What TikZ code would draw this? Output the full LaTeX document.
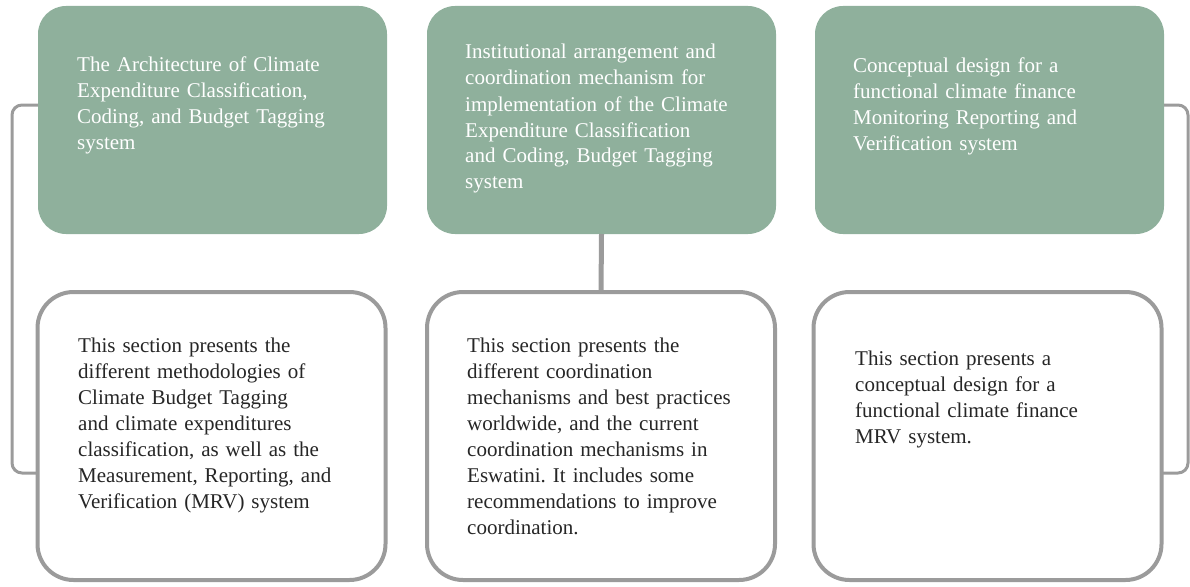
\documentclass[tikz,border=0pt]{standalone}
\usepackage{fontspec}
\setmainfont{Liberation Serif}
\frenchspacing
\definecolor{sage}{HTML}{8FB09C}
\definecolor{linegray}{HTML}{9B9B9B}
\definecolor{txtdark}{HTML}{262626}
\begin{document}
\begin{tikzpicture}[x=1pt,y=-1pt,
  topbox/.style={draw=none,fill=sage,rounded corners=28pt,minimum width=349pt,minimum height=228pt,inner sep=0pt,outer sep=0pt},
  botbox/.style={draw=linegray,line width=4pt,fill=white,rounded corners=36pt,minimum width=348pt,minimum height=288pt,inner sep=0pt,outer sep=0pt},
  toptext/.style={anchor=base west,inner sep=0pt,text width=300pt,align=left,text=white,font=\fontsize{21}{26}\selectfont},
  bottext/.style={anchor=base west,inner sep=0pt,text width=300pt,align=left,text=txtdark,font=\fontsize{21}{26}\selectfont},
  bracket/.style={draw=linegray,line width=3pt,rounded corners=10pt},
  midline/.style={draw=linegray,line width=5pt}]
\useasboundingbox (0,0) rectangle (1190,586);
\node[topbox] (tl) at (212.5,120) {};
\node[topbox] (tm) at (601.5,120) {};
\node[topbox] (tr) at (989.5,120) {};
\node[botbox] (bl) at (211.5,436) {};
\node[botbox] (bm) at (601,436) {};
\node[botbox] (br) at (987.5,436) {};
\draw[bracket] ([yshift=15pt]tl.west) -- ++(-26,0) |- ([yshift=-37pt]bl.west);
\draw[bracket] ([yshift=15pt]tr.east) -- ++(24,0) |- ([yshift=-37pt]br.east);
\draw[midline] (tm.south) -- (bm.north);
\node[toptext] (tlt) at (77,71) {The Architecture of Climate\\Expenditure Classification,\\Coding, and Budget Tagging\\system};
\node[toptext] (tmt) at (465,59) {Institutional arrangement and\\coordination mechanism for\\implementation of the Climate\\Expenditure Classification\\and Coding, Budget Tagging\\system};
\node[toptext] (trt) at (853,72) {Conceptual design for a\\functional climate finance\\Monitoring Reporting and\\Verification system};
\node[bottext] (blt) at (78,352) {This section presents the\\different methodologies of\\Climate Budget Tagging\\and climate expenditures\\classification, as well as the\\Measurement, Reporting, and\\Verification (MRV) system};
\node[bottext] (bmt) at (467,352) {This section presents the\\different coordination\\mechanisms and best practices\\worldwide, and the current\\coordination mechanisms in\\Eswatini. It includes some\\recommendations to improve\\coordination.};
\node[bottext] (brt) at (855,365) {This section presents a\\conceptual design for a\\functional climate finance\\MRV system.};
\end{tikzpicture}
\end{document}
